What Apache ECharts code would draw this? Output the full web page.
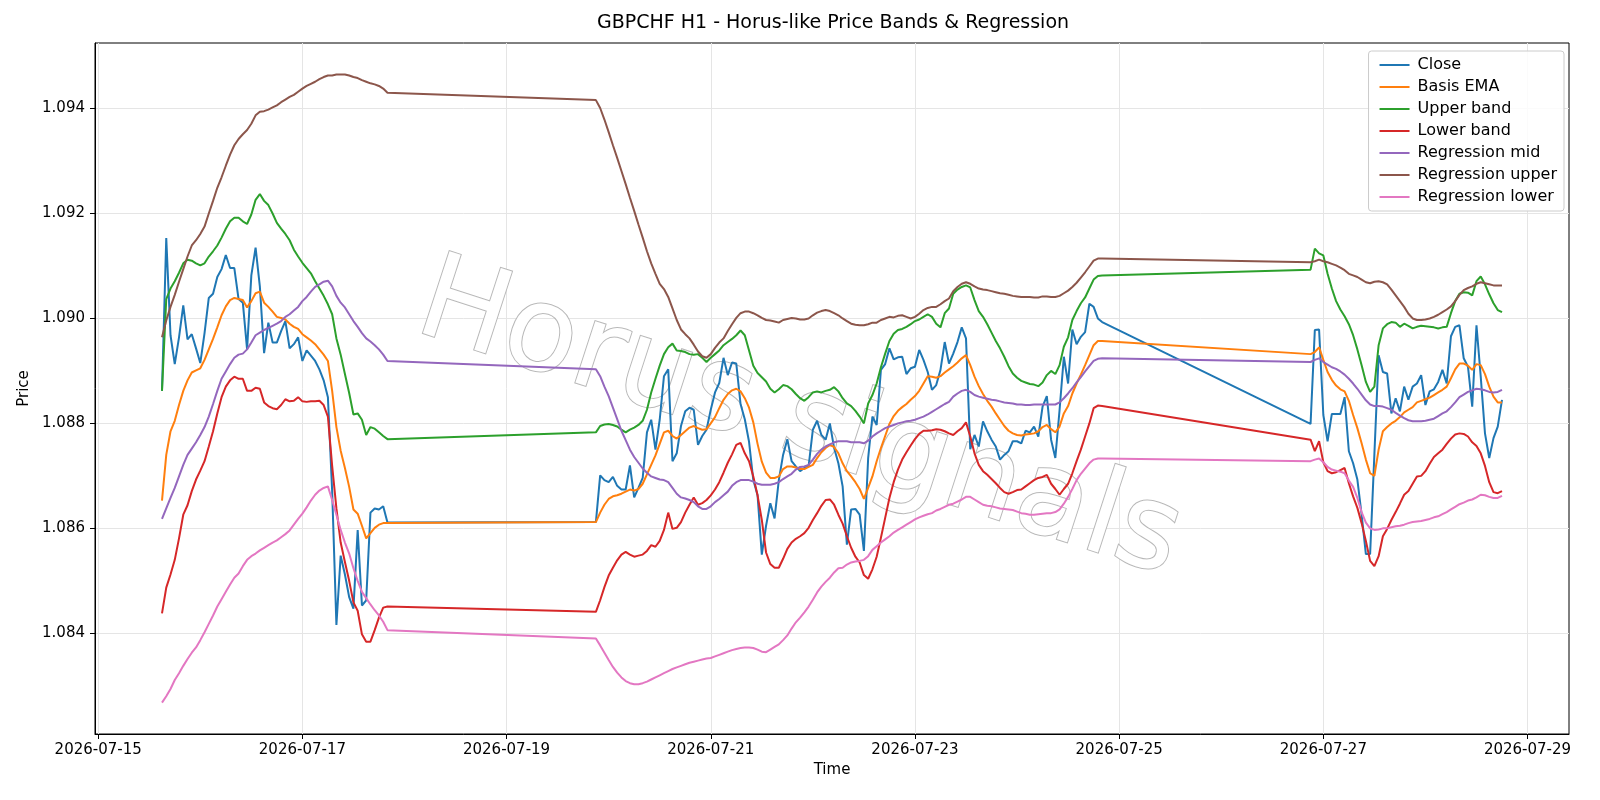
<!DOCTYPE html>
<html>
<head>
<meta charset="utf-8">
<script src="https://cdn.jsdelivr.net/npm/echarts@6/dist/echarts.min.js"></script>
<style>
html,body{margin:0;padding:0;background:#ffffff;}
#chart{width:1600px;height:800px;}
</style>
</head>
<body>
<div id="chart"></div>
<script>
// ---------- data ----------
const titleText = 'GBPCHF H1 - Horus-like Price Bands & Regression';
const seriesNames = ['Close','Basis EMA','Upper band','Lower band','Regression mid','Regression upper','Regression lower'];
const xTickLabels = ['2026-07-15','2026-07-17','2026-07-19','2026-07-21','2026-07-23','2026-07-25','2026-07-27','2026-07-29'];
const yTickValues = [1.084,1.086,1.088,1.090,1.092,1.094];
// hourly trading sessions (start, number of hourly bars)
const sessionStarts = ['2026-07-15T15:00','2026-07-19T21:00','2026-07-26T21:00'];
const sessionBars = [54,120,46];

const closeVals = [
1.08861,1.09152,1.08967,1.08912,1.08963,1.09024,1.08959,1.08969,1.08942,1.08914,
1.08971,1.09038,1.09046,1.09078,1.09093,1.09120,1.09095,1.09095,1.09036,1.09029,
1.08940,1.09081,1.09134,1.09060,1.08933,1.08991,1.08953,1.08953,1.08975,1.08994,
1.08942,1.08950,1.08963,1.08918,1.08938,1.08928,1.08918,1.08902,1.08881,1.08849,
1.08670,1.08415,1.08547,1.08511,1.08468,1.08446,1.08596,1.08452,1.08462,1.08629,
1.08637,1.08635,1.08641,1.08610,
1.08611,1.08700,1.08691,1.08687,1.08697,1.08680,1.08673,1.08673,1.08719,1.08658,
1.08676,1.08695,1.08782,1.08806,1.08749,1.08806,1.08889,1.08902,1.08727,1.08742,
1.08794,1.08822,1.08829,1.08825,1.08758,1.08775,1.08787,1.08825,1.08858,1.08876,
1.08924,1.08891,1.08915,1.08913,1.08836,1.08807,1.08764,1.08691,1.08662,1.08549,
1.08604,1.08647,1.08618,1.08691,1.08739,1.08769,1.08727,1.08717,1.08708,1.08714,
1.08717,1.08787,1.08804,1.08777,1.08768,1.08799,1.08752,1.08723,1.08679,1.08568,
1.08635,1.08636,1.08625,1.08556,1.08733,1.08812,1.08796,1.08901,1.08912,1.08942,
1.08921,1.08925,1.08926,1.08893,1.08904,1.08907,1.08939,1.08920,1.08897,1.08863,
1.08872,1.08901,1.08954,1.08913,1.08932,1.08954,1.08982,1.08961,1.08750,1.08777,
1.08755,1.08803,1.08784,1.08768,1.08755,1.08730,1.08739,1.08746,1.08765,1.08765,
1.08761,1.08785,1.08782,1.08793,1.08774,1.08831,1.08851,1.08768,1.08733,1.08825,
1.08926,1.08875,1.08978,1.08950,1.08964,1.08973,1.09027,1.09021,1.08999,1.08992,
1.08798,1.08977,1.08978,1.08815,1.08765,1.08817,1.08817,1.08817,1.08849,1.08746,
1.08723,1.08692,1.08625,1.08550,1.08550,1.08740,1.08929,1.08897,1.08894,1.08818,
1.08847,1.08822,1.08869,1.08844,1.08869,1.08875,1.08891,1.08834,1.08860,1.08864,
1.08878,1.08901,1.08875,1.08965,1.08983,1.08986,1.08923,1.08907,1.08831,1.08986,
1.08888,1.08780,1.08733,1.08771,1.08793,1.08844
];

const emaVals = [
1.08652,1.08739,1.08784,1.08804,1.08834,1.08861,1.08881,1.08896,1.08900,1.08904,
1.08920,1.08940,1.08960,1.08982,1.09005,1.09022,1.09034,1.09038,1.09036,1.09034,
1.09020,1.09032,1.09047,1.09050,1.09029,1.09021,1.09012,1.09002,1.09000,1.08997,
1.08989,1.08983,1.08979,1.08969,1.08963,1.08957,1.08950,1.08940,1.08930,1.08918,
1.08861,1.08792,1.08747,1.08714,1.08678,1.08635,1.08627,1.08604,1.08580,1.08590,
1.08600,1.08606,1.08609,1.08609,
1.08611,1.08629,1.08644,1.08655,1.08660,1.08662,1.08665,1.08669,1.08673,1.08671,
1.08674,1.08684,1.08702,1.08720,1.08738,1.08760,1.08782,1.08785,1.08775,1.08770,
1.08777,1.08784,1.08791,1.08794,1.08790,1.08787,1.08788,1.08799,1.08811,1.08828,
1.08844,1.08855,1.08862,1.08865,1.08860,1.08847,1.08829,1.08801,1.08760,1.08726,
1.08705,1.08695,1.08695,1.08698,1.08712,1.08717,1.08717,1.08715,1.08712,1.08712,
1.08716,1.08720,1.08733,1.08744,1.08752,1.08758,1.08754,1.08742,1.08723,1.08708,
1.08698,1.08687,1.08674,1.08655,1.08676,1.08698,1.08727,1.08752,1.08775,1.08798,
1.08813,1.08823,1.08830,1.08836,1.08844,1.08851,1.08861,1.08875,1.08889,1.08888,
1.08886,1.08889,1.08896,1.08902,1.08908,1.08915,1.08923,1.08929,1.08910,1.08888,
1.08870,1.08855,1.08842,1.08831,1.08818,1.08806,1.08794,1.08785,1.08780,1.08777,
1.08776,1.08778,1.08779,1.08780,1.08784,1.08792,1.08796,1.08788,1.08782,1.08793,
1.08818,1.08832,1.08856,1.08875,1.08892,1.08910,1.08929,1.08948,1.08956,1.08956,
1.08931,1.08935,1.08944,1.08920,1.08897,1.08882,1.08871,1.08864,1.08860,1.08842,
1.08815,1.08790,1.08761,1.08730,1.08704,1.08699,1.08749,1.08784,1.08792,1.08799,
1.08804,1.08811,1.08820,1.08825,1.08830,1.08839,1.08842,1.08845,1.08848,1.08853,
1.08858,1.08863,1.08869,1.08885,1.08902,1.08913,1.08913,1.08909,1.08901,1.08912,
1.08910,1.08893,1.08869,1.08850,1.08839,1.08839
];

const upperVals = [
1.08861,1.09036,1.09056,1.09070,1.09086,1.09104,1.09111,1.09109,1.09104,1.09100,
1.09104,1.09117,1.09127,1.09138,1.09153,1.09170,1.09184,1.09191,1.09191,1.09184,
1.09179,1.09197,1.09225,1.09236,1.09223,1.09215,1.09199,1.09181,1.09170,1.09160,
1.09148,1.09130,1.09117,1.09105,1.09095,1.09085,1.09070,1.09056,1.09042,1.09026,
1.09007,1.08961,1.08930,1.08893,1.08857,1.08816,1.08818,1.08806,1.08777,1.08792,
1.08789,1.08782,1.08775,1.08769,
1.08782,1.08794,1.08797,1.08798,1.08796,1.08793,1.08787,1.08782,1.08787,1.08791,
1.08796,1.08804,1.08825,1.08858,1.08884,1.08909,1.08931,1.08944,1.08951,1.08938,
1.08937,1.08935,1.08931,1.08930,1.08931,1.08924,1.08916,1.08924,1.08931,1.08938,
1.08948,1.08954,1.08960,1.08967,1.08976,1.08967,1.08938,1.08909,1.08895,1.08887,
1.08879,1.08865,1.08858,1.08864,1.08872,1.08870,1.08864,1.08855,1.08847,1.08842,
1.08849,1.08858,1.08860,1.08858,1.08861,1.08863,1.08868,1.08860,1.08847,1.08837,
1.08832,1.08823,1.08812,1.08799,1.08837,1.08853,1.08875,1.08906,1.08932,1.08956,
1.08970,1.08977,1.08979,1.08983,1.08988,1.08994,1.08997,1.09002,1.09007,1.09002,
1.08989,1.08982,1.09009,1.09018,1.09046,1.09054,1.09059,1.09062,1.09058,1.09034,
1.09013,1.09002,1.08988,1.08972,1.08956,1.08942,1.08926,1.08908,1.08894,1.08886,
1.08880,1.08877,1.08874,1.08873,1.08870,1.08877,1.08891,1.08899,1.08893,1.08910,
1.08945,1.08963,1.08996,1.09013,1.09028,1.09039,1.09056,1.09073,1.09080,1.09081,
1.09092,1.09132,1.09123,1.09119,1.09084,1.09056,1.09032,1.09016,1.09003,1.08988,
1.08967,1.08940,1.08910,1.08878,1.08859,1.08869,1.08948,1.08980,1.08988,1.08992,
1.08991,1.08983,1.08989,1.08985,1.08980,1.08983,1.08985,1.08984,1.08983,1.08982,
1.08980,1.08982,1.08983,1.09009,1.09032,1.09046,1.09049,1.09048,1.09043,1.09070,
1.09079,1.09064,1.09045,1.09028,1.09015,1.09011
];

const lowerVals = [
1.08437,1.08486,1.08511,1.08539,1.08580,1.08625,1.08643,1.08670,1.08692,1.08709,
1.08727,1.08755,1.08784,1.08818,1.08849,1.08869,1.08881,1.08888,1.08884,1.08884,
1.08861,1.08861,1.08867,1.08865,1.08839,1.08832,1.08828,1.08826,1.08834,1.08845,
1.08841,1.08842,1.08849,1.08841,1.08840,1.08841,1.08841,1.08842,1.08834,1.08812,
1.08718,1.08637,1.08572,1.08535,1.08499,1.08458,1.08442,1.08397,1.08383,1.08383,
1.08405,1.08429,1.08448,1.08450,
1.08440,1.08462,1.08487,1.08509,1.08524,1.08538,1.08549,1.08554,1.08549,1.08545,
1.08547,1.08549,1.08556,1.08567,1.08564,1.08575,1.08596,1.08629,1.08598,1.08600,
1.08611,1.08629,1.08644,1.08658,1.08644,1.08647,1.08653,1.08662,1.08673,1.08687,
1.08705,1.08724,1.08740,1.08758,1.08762,1.08742,1.08727,1.08698,1.08662,1.08615,
1.08553,1.08531,1.08524,1.08524,1.08541,1.08560,1.08572,1.08579,1.08584,1.08590,
1.08600,1.08615,1.08628,1.08642,1.08653,1.08654,1.08644,1.08625,1.08608,1.08584,
1.08562,1.08545,1.08534,1.08510,1.08503,1.08521,1.08545,1.08581,1.08619,1.08657,
1.08687,1.08711,1.08730,1.08744,1.08757,1.08769,1.08779,1.08785,1.08785,1.08786,
1.08788,1.08787,1.08784,1.08780,1.08777,1.08784,1.08790,1.08801,1.08774,1.08742,
1.08720,1.08708,1.08701,1.08693,1.08685,1.08676,1.08668,1.08665,1.08668,1.08672,
1.08673,1.08679,1.08685,1.08691,1.08695,1.08697,1.08701,1.08684,1.08674,1.08663,
1.08674,1.08684,1.08704,1.08727,1.08749,1.08774,1.08799,1.08828,1.08833,1.08832,
1.08768,1.08746,1.08765,1.08725,1.08708,1.08704,1.08706,1.08710,1.08714,1.08685,
1.08660,1.08638,1.08609,1.08575,1.08537,1.08527,1.08546,1.08584,1.08598,1.08615,
1.08630,1.08646,1.08663,1.08670,1.08684,1.08698,1.08699,1.08708,1.08722,1.08735,
1.08742,1.08749,1.08760,1.08770,1.08778,1.08780,1.08779,1.08774,1.08763,1.08756,
1.08742,1.08718,1.08687,1.08668,1.08666,1.08670
];

const regMidVals = [
1.08617,1.08637,1.08657,1.08676,1.08698,1.08720,1.08739,1.08751,1.08763,1.08777,
1.08792,1.08812,1.08836,1.08861,1.08884,1.08898,1.08912,1.08924,1.08930,1.08932,
1.08940,1.08953,1.08967,1.08972,1.08977,1.08981,1.08985,1.08989,1.08994,1.09002,
1.09007,1.09014,1.09021,1.09032,1.09040,1.09050,1.09059,1.09064,1.09069,1.09071,
1.09060,1.09042,1.09029,1.09020,1.09007,1.08994,1.08983,1.08971,1.08961,1.08955,
1.08948,1.08940,1.08930,1.08918,
1.08902,1.08889,1.08869,1.08851,1.08829,1.08807,1.08785,1.08767,1.08749,1.08735,
1.08724,1.08713,1.08705,1.08698,1.08695,1.08692,1.08691,1.08687,1.08676,1.08665,
1.08658,1.08656,1.08653,1.08649,1.08641,1.08636,1.08636,1.08641,1.08649,1.08655,
1.08662,1.08669,1.08680,1.08687,1.08691,1.08691,1.08691,1.08688,1.08684,1.08682,
1.08682,1.08682,1.08684,1.08687,1.08693,1.08698,1.08703,1.08711,1.08716,1.08717,
1.08720,1.08730,1.08741,1.08749,1.08755,1.08759,1.08763,1.08765,1.08765,1.08765,
1.08763,1.08763,1.08763,1.08761,1.08766,1.08774,1.08780,1.08785,1.08790,1.08793,
1.08796,1.08799,1.08801,1.08803,1.08804,1.08806,1.08809,1.08812,1.08816,1.08821,
1.08826,1.08831,1.08836,1.08840,1.08850,1.08856,1.08861,1.08863,1.08859,1.08853,
1.08850,1.08848,1.08846,1.08844,1.08843,1.08841,1.08839,1.08838,1.08837,1.08835,
1.08835,1.08834,1.08834,1.08835,1.08835,1.08835,1.08835,1.08835,1.08835,1.08839,
1.08847,1.08856,1.08866,1.08877,1.08887,1.08898,1.08908,1.08918,1.08922,1.08923,
1.08916,1.08920,1.08923,1.08916,1.08911,1.08906,1.08903,1.08898,1.08892,1.08884,
1.08875,1.08865,1.08854,1.08843,1.08835,1.08832,1.08832,1.08831,1.08828,1.08825,
1.08819,1.08814,1.08809,1.08805,1.08803,1.08803,1.08803,1.08804,1.08806,1.08808,
1.08813,1.08818,1.08822,1.08830,1.08839,1.08849,1.08854,1.08859,1.08862,1.08865,
1.08864,1.08862,1.08859,1.08858,1.08859,1.08863
];

const regUpperVals = [
1.08963,1.08995,1.09021,1.09044,1.09069,1.09093,1.09117,1.09138,1.09148,1.09160,
1.09174,1.09199,1.09223,1.09248,1.09268,1.09290,1.09311,1.09329,1.09341,1.09350,
1.09358,1.09370,1.09386,1.09393,1.09394,1.09397,1.09401,1.09405,1.09411,1.09416,
1.09421,1.09425,1.09431,1.09437,1.09442,1.09446,1.09450,1.09455,1.09459,1.09462,
1.09462,1.09464,1.09464,1.09464,1.09462,1.09459,1.09457,1.09453,1.09450,1.09447,
1.09445,1.09442,1.09437,1.09429,
1.09415,1.09400,1.09378,1.09354,1.09329,1.09305,1.09280,1.09255,1.09229,1.09204,
1.09178,1.09153,1.09127,1.09104,1.09084,1.09065,1.09055,1.09040,1.09018,1.08996,
1.08978,1.08969,1.08961,1.08949,1.08936,1.08927,1.08924,1.08931,1.08943,1.08953,
1.08961,1.08975,1.08988,1.09000,1.09009,1.09012,1.09012,1.09009,1.09005,1.09000,
1.08996,1.08995,1.08993,1.08991,1.08996,1.08998,1.09000,1.08999,1.08997,1.08997,
1.08999,1.09005,1.09010,1.09013,1.09015,1.09013,1.09009,1.09005,1.08999,1.08994,
1.08989,1.08987,1.08986,1.08986,1.08988,1.08991,1.08991,1.08996,1.08999,1.09002,
1.09001,1.09004,1.09005,1.09002,1.08999,1.09002,1.09008,1.09015,1.09019,1.09021,
1.09021,1.09026,1.09032,1.09037,1.09051,1.09059,1.09065,1.09068,1.09065,1.09060,
1.09056,1.09054,1.09053,1.09051,1.09049,1.09047,1.09046,1.09044,1.09042,1.09041,
1.09040,1.09040,1.09040,1.09039,1.09039,1.09041,1.09041,1.09040,1.09040,1.09042,
1.09047,1.09052,1.09059,1.09067,1.09077,1.09087,1.09098,1.09109,1.09113,1.09113,
1.09106,1.09108,1.09111,1.09108,1.09106,1.09103,1.09100,1.09096,1.09091,1.09084,
1.09081,1.09078,1.09073,1.09068,1.09066,1.09069,1.09070,1.09068,1.09064,1.09054,
1.09043,1.09032,1.09021,1.09008,1.08999,1.08996,1.08996,1.08997,1.08999,1.09002,
1.09006,1.09011,1.09016,1.09022,1.09032,1.09044,1.09053,1.09057,1.09060,1.09065,
1.09068,1.09066,1.09064,1.09062,1.09062,1.09062
];

const regLowerVals = [
1.08267,1.08279,1.08293,1.08310,1.08323,1.08337,1.08350,1.08362,1.08372,1.08386,
1.08401,1.08417,1.08433,1.08450,1.08464,1.08478,1.08492,1.08505,1.08513,1.08527,
1.08539,1.08546,1.08551,1.08557,1.08562,1.08567,1.08572,1.08576,1.08582,1.08588,
1.08595,1.08606,1.08617,1.08627,1.08639,1.08652,1.08663,1.08671,1.08676,1.08679,
1.08653,1.08625,1.08596,1.08572,1.08551,1.08523,1.08499,1.08478,1.08466,1.08454,
1.08443,1.08433,1.08421,1.08405,
1.08389,1.08376,1.08362,1.08348,1.08335,1.08324,1.08315,1.08308,1.08304,1.08302,
1.08302,1.08304,1.08307,1.08311,1.08315,1.08319,1.08323,1.08327,1.08331,1.08334,
1.08337,1.08340,1.08343,1.08345,1.08347,1.08349,1.08351,1.08352,1.08355,1.08358,
1.08361,1.08364,1.08367,1.08369,1.08371,1.08372,1.08372,1.08371,1.08368,1.08364,
1.08363,1.08368,1.08373,1.08378,1.08386,1.08395,1.08408,1.08420,1.08429,1.08439,
1.08450,1.08463,1.08477,1.08488,1.08497,1.08505,1.08515,1.08523,1.08524,1.08530,
1.08534,1.08536,1.08537,1.08539,1.08546,1.08558,1.08565,1.08572,1.08578,1.08584,
1.08591,1.08596,1.08601,1.08606,1.08611,1.08616,1.08620,1.08623,1.08626,1.08628,
1.08633,1.08636,1.08640,1.08644,1.08646,1.08650,1.08654,1.08659,1.08659,1.08654,
1.08649,1.08644,1.08642,1.08641,1.08639,1.08637,1.08636,1.08635,1.08634,1.08631,
1.08628,1.08627,1.08625,1.08625,1.08626,1.08627,1.08628,1.08628,1.08630,1.08635,
1.08646,1.08659,1.08674,1.08691,1.08703,1.08713,1.08723,1.08730,1.08732,1.08732,
1.08727,1.08730,1.08732,1.08725,1.08716,1.08711,1.08709,1.08707,1.08704,1.08690,
1.08678,1.08657,1.08630,1.08610,1.08599,1.08596,1.08597,1.08599,1.08599,1.08601,
1.08603,1.08604,1.08606,1.08609,1.08611,1.08612,1.08613,1.08615,1.08617,1.08620,
1.08622,1.08626,1.08630,1.08635,1.08640,1.08645,1.08648,1.08652,1.08654,1.08658,
1.08663,1.08662,1.08659,1.08657,1.08657,1.08661
];

// ---------- build ----------
function parseLocal(s){
  const parts = s.split('T');
  const d = parts[0].split('-').map(Number);
  const t = (parts[1] || '00:00').split(':').map(Number);
  return new Date(d[0], d[1]-1, d[2], t[0], t[1]).getTime();
}
const HOUR = 3600000;
const times = [];
sessionStarts.forEach(function(s, i){
  const t0 = parseLocal(s);
  for (let k = 0; k < sessionBars[i]; k++) times.push(t0 + k*HOUR);
});
function pad(n){ return (n < 10 ? '0' : '') + n; }
function fmtDate(v){ const d = new Date(v); return d.getFullYear() + '-' + pad(d.getMonth()+1) + '-' + pad(d.getDate()); }

const xTickValues = xTickLabels.map(function(s){ return parseLocal(s + 'T00:00'); });
const firstT = times[0], lastT = times[times.length-1];
const span = lastT - firstT;
const xMin = firstT - 0.05*span, xMax = lastT + 0.05*span;

const allVals = [closeVals, emaVals, upperVals, lowerVals, regMidVals, regUpperVals, regLowerVals];
let vmin = Infinity, vmax = -Infinity;
allVals.forEach(function(a){ a.forEach(function(v){ if (v < vmin) vmin = v; if (v > vmax) vmax = v; }); });
const vspan = vmax - vmin;
const yMin = vmin - 0.05*vspan, yMax = vmax + 0.05*vspan;

const colors = ['#1f77b4','#ff7f0e','#2ca02c','#d62728','#9467bd','#8c564b','#e377c2'];
const FONT = '"DejaVu Sans", "Liberation Sans", sans-serif';

const series = allVals.map(function(vals, i){
  return {
    name: seriesNames[i],
    type: 'line',
    data: vals.map(function(v, k){ return [times[k], v]; }),
    symbol: 'none',
    showSymbol: false,
    lineStyle: { width: 2, color: colors[i] },
    itemStyle: { color: colors[i] },
    emphasis: { disabled: true },
    z: 3 + i,
    animation: false
  };
});

const chart = echarts.init(document.getElementById('chart'), null, { renderer: 'canvas' });
chart.setOption({
  backgroundColor: '#ffffff',
  animation: false,
  textStyle: { fontFamily: FONT },
  title: {
    text: titleText,
    left: 597,
    top: 14,
    padding: 0,
    textStyle: { fontFamily: FONT, fontSize: 19, fontWeight: 'normal', color: '#000000' }
  },
  grid: {
    left: 95, right: 31, top: 43, bottom: 66,
    show: true, borderColor: '#000000', borderWidth: 1, backgroundColor: 'transparent',
    containLabel: false
  },
  legend: {
    orient: 'vertical',
    right: 36,
    top: 51,
    itemWidth: 30,
    itemHeight: 14,
    itemGap: 6,
    padding: [6, 7, 6, 10],
    backgroundColor: 'rgba(255,255,255,0.85)',
    borderColor: '#cccccc',
    borderWidth: 1,
    borderRadius: 3,
    itemStyle: { opacity: 0, borderWidth: 0 },
    lineStyle: { width: 2 },
    textStyle: { fontFamily: FONT, fontSize: 16, color: '#000000', padding: [0, 0, 0, 3] },
    data: seriesNames
  },
  xAxis: {
    type: 'value',
    min: xMin,
    max: xMax,
    name: 'Time',
    nameLocation: 'middle',
    nameGap: 28,
    nameTextStyle: { fontFamily: FONT, fontSize: 15, color: '#000000' },
    axisLine: { show: true, onZero: false, lineStyle: { color: '#000000', width: 1 } },
    axisTick: { show: true, length: 5, lineStyle: { color: '#000000', width: 1 }, customValues: xTickValues },
    axisLabel: { show: true, margin: 9, fontFamily: FONT, fontSize: 15, color: '#000000',
      customValues: xTickValues, formatter: function(v){ return fmtDate(v); } },
    splitLine: { show: true, lineStyle: { color: '#e5e5e5', width: 1 } }
  },
  yAxis: {
    type: 'value',
    min: yMin,
    max: yMax,
    name: 'Price',
    nameLocation: 'middle',
    nameGap: 62,
    nameRotate: 90,
    nameTextStyle: { fontFamily: FONT, fontSize: 15, color: '#000000' },
    axisLine: { show: true, onZero: false, lineStyle: { color: '#000000', width: 1 } },
    axisTick: { show: true, length: 5, lineStyle: { color: '#000000', width: 1 }, customValues: yTickValues },
    axisLabel: { show: true, margin: 10, fontFamily: FONT, fontSize: 15, color: '#000000',
      customValues: yTickValues, formatter: function(v){ return v.toFixed(3); } },
    splitLine: { show: true, lineStyle: { color: '#e5e5e5', width: 1 } }
  },
  graphic: [{
    type: 'text',
    x: 799,
    y: 423,
    rotation: -18 * Math.PI / 180,
    z: 1,
    silent: true,
    style: {
      text: 'Horus signals',
      font: '118px "DejaVu Sans", sans-serif',
      fill: '#ffffff',
      stroke: '#b8b8b8',
      lineWidth: 2,
      textAlign: 'center',
      textVerticalAlign: 'middle',
      align: 'center',
      verticalAlign: 'middle',
      shadowColor: 'rgba(0,0,0,0.32)',
      shadowOffsetX: 3,
      shadowOffsetY: 3,
      shadowBlur: 2
    }
  }],
  series: series
});
</script>
</body>
</html>
